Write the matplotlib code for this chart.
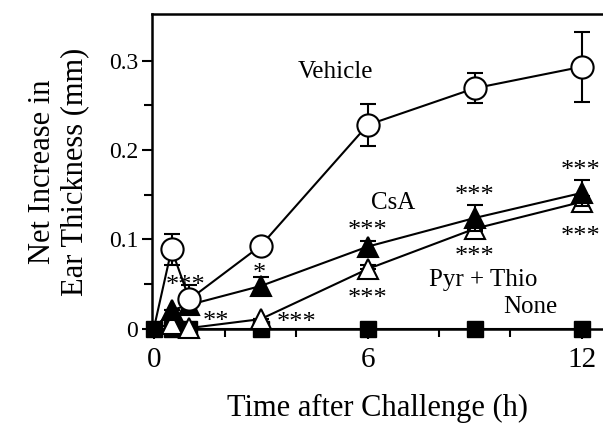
import matplotlib
matplotlib.use("Agg")
import matplotlib.pyplot as plt
import numpy as np

plt.rcParams['font.family'] = ['Liberation Serif', 'DejaVu Serif']

# ── data ────────────────────────────────────────────────────────────────
hours = [0, 0.5, 1, 3, 6, 9, 12]

vehicle = [0.0, 0.089, 0.033, 0.093, 0.228, 0.269, 0.293]
vehicle_err = [0, 0.017, 0.016, 0, 0.023, 0.017, 0.039]

csa = [0.0, 0.021, 0.027, 0.048, 0.092, 0.124, 0.152]
csa_err = [0, 0, 0.006, 0.010, 0.006, 0.014, 0.015]

pyr_thio = [0.0, 0.006, 0.001, 0.011, 0.067, 0.112, 0.142]
pyr_thio_err = [0, 0, 0, 0, 0.005, 0.005, 0.007]

none = [0.0, 0.0, 0.0, 0.0, 0.0, 0.0, 0.0]

# significance annotations: (x, y, text)
stars = [
    (0.9, 0.056, '***'), (1.75, 0.016, '**'), (2.95, 0.069, '*'),
    (4.0, 0.015, '***'), (6.0, 0.118, '***'), (6.0, 0.041, '***'),
    (9.0, 0.157, '***'), (9.0, 0.088, '***'), (11.97, 0.184, '***'),
    (11.97, 0.111, '***'),
]
series_labels = [
    (5.1, 0.287, 'Vehicle'), (6.7, 0.141, 'CsA'),
    (9.25, 0.055, 'Pyr + Thio'), (10.55, 0.024, 'None'),
]

# ── plot ────────────────────────────────────────────────────────────────
fig = plt.figure(figsize=(6.03, 4.25), dpi=100)
ax = fig.add_axes([0.252, 0.226, 0.748, 0.741])

err_kw = dict(ecolor='black', elinewidth=1.5, capsize=6, capthick=1.5,
              color='black', lw=1.5, clip_on=False, markevery=slice(1, None))

ax.plot(hours, none, color='black', lw=1.5, zorder=2, clip_on=False)
ax.plot(hours[1:], none[1:], ls='none', marker='s', ms=11,
        mfc='black', mec='black', zorder=2, clip_on=False)
ax.errorbar(hours, pyr_thio, yerr=[[0]*7, pyr_thio_err], marker='^', ms=14,
            mfc='white', mec='black', mew=1.5, zorder=3, **err_kw)
ax.errorbar(hours, csa, yerr=csa_err, marker='^', ms=14,
            mfc='black', mec='black', mew=1.5, zorder=4, **err_kw)
ax.errorbar(hours, vehicle, yerr=vehicle_err, marker='o', ms=16,
            mfc='white', mec='black', mew=1.5, zorder=5, **err_kw)
# square at the origin sits on top of everything
ax.plot(hours[:1], none[:1], ls='none', marker='s', ms=11,
        mfc='black', mec='black', zorder=6, clip_on=False)

for x, y, t in stars:
    ax.text(x, y - 0.008, t, ha='center', va='center', fontsize=19)
for x, y, t in series_labels:
    ax.text(x, y, t, ha='center', va='center', fontsize=18)

ax.set_xlim(-0.05, 12.6)
ax.set_ylim(0, 0.352)
ax.set_xticks([0, 6, 12])
ax.set_xticks([2, 4, 8, 10], minor=True)
ax.set_yticks([0, 0.1, 0.2, 0.3])
ax.set_yticklabels(['0', '0.1', '0.2', '0.3'])
ax.set_yticks([0.05, 0.15, 0.25], minor=True)
ax.tick_params(which='major', direction='out', length=7, width=1.5)
ax.tick_params(which='minor', direction='out', length=6, width=1.5)
ax.tick_params(axis='y', labelsize=17, pad=3)
ax.tick_params(axis='x', labelsize=21, pad=6)

for s in ['left', 'bottom', 'top']:
    ax.spines[s].set_linewidth(1.8)
ax.spines['right'].set_visible(False)

ax.set_xlabel('Time after Challenge (h)', fontsize=22, labelpad=15)
ax.set_ylabel('Net Increase in\nEar Thickness (mm)', fontsize=22,
              labelpad=14, linespacing=1.15)

fig.savefig('out.png', dpi=100)
